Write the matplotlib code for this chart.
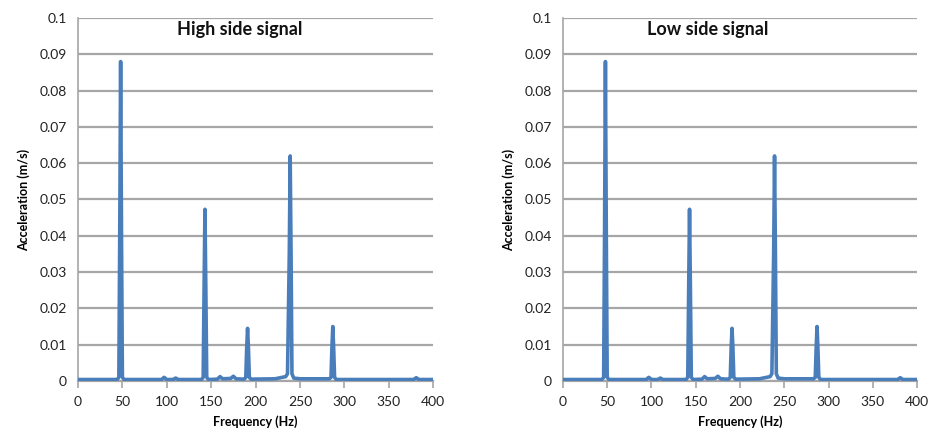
import numpy as np
import matplotlib.pyplot as plt

# spectrum (Hz, m/s)
freq = [0, 44, 46, 47, 48, 49, 50, 52, 94, 97, 100, 107, 110, 113,
        139, 141, 142, 143, 144, 145, 147, 157, 160, 163, 172, 175, 178,
        187, 189, 190, 191, 192, 193, 195, 222, 230, 234, 236, 238, 239,
        240, 241, 243, 250, 283, 285, 286, 287, 288, 289, 291, 300, 378,
        381, 384, 400]
high_amp = [0.0004, 0.0004, 0.001, 0.04, 0.088, 0.04, 0.001, 0.0004,
            0.0004, 0.001, 0.0004, 0.0004, 0.0008, 0.0004,
            0.0004, 0.001, 0.025, 0.0473, 0.025, 0.001, 0.0004, 0.0005, 0.0012,
            0.0006, 0.0007, 0.0013, 0.0006,
            0.0005, 0.001, 0.009, 0.0145, 0.009, 0.001, 0.0005, 0.0006, 0.001,
            0.0012, 0.002, 0.035, 0.062, 0.035, 0.002, 0.0008, 0.0006,
            0.0006, 0.001, 0.009, 0.015, 0.009, 0.001, 0.0004, 0.0004, 0.0004,
            0.0009, 0.0004, 0.0004]
low_amp = [0.0004, 0.0004, 0.001, 0.04, 0.088, 0.04, 0.001, 0.0004,
           0.0004, 0.001, 0.0004, 0.0004, 0.0008, 0.0004,
           0.0004, 0.001, 0.025, 0.0473, 0.025, 0.001, 0.0004, 0.0005, 0.0012,
           0.0006, 0.0007, 0.0013, 0.0006,
           0.0005, 0.001, 0.009, 0.0145, 0.009, 0.001, 0.0005, 0.0006, 0.001,
           0.0012, 0.002, 0.035, 0.062, 0.035, 0.002, 0.0008, 0.0006,
           0.0006, 0.001, 0.009, 0.015, 0.009, 0.001, 0.0004, 0.0004, 0.0004,
           0.0009, 0.0004, 0.0004]

titles = ['High side signal', 'Low side signal']
title_x = [182, 163]
xticks = np.arange(0, 401, 50)
yticks = np.arange(0, 0.1001, 0.01)
ytick_labels = ['0', '0.01', '0.02', '0.03', '0.04', '0.05',
                '0.06', '0.07', '0.08', '0.09', '0.1']

plt.rcParams['font.family'] = ['Lato', 'DejaVu Sans']

fig = plt.figure(figsize=(9.32, 4.47), dpi=100)
axes = [fig.add_axes([0.0837, 0.1477, 0.381, 0.812]),
        fig.add_axes([0.604, 0.1477, 0.380, 0.812])]

for ax, amp, title, tx in zip(axes, [high_amp, low_amp], titles, title_x):
    ax.plot(freq, amp, color='#4a7ebb', linewidth=2.6, zorder=3)
    ax.set_xlim(0, 400)
    ax.set_ylim(0, 0.1)
    ax.set_xticks(xticks)
    ax.set_yticks(yticks)
    ax.set_yticklabels(ytick_labels)
    ax.yaxis.grid(True, color='#a6a6a6', linewidth=1.6, zorder=1)
    ax.set_axisbelow(True)
    for s in ['top', 'right']:
        ax.spines[s].set_visible(False)
    ax.spines['left'].set_color('#a6a6a6')
    ax.spines['bottom'].set_color('#a6a6a6')
    ax.spines['left'].set_linewidth(1.2)
    ax.spines['bottom'].set_linewidth(1.6)
    ax.tick_params(axis='y', length=0, labelsize=10, colors='#222222', pad=8)
    ax.tick_params(axis='x', length=5, width=1.2, color='#a6a6a6',
                   labelsize=10, labelcolor='#222222', pad=6)
    ax.set_xlabel('Frequency (Hz)', fontsize=9, fontweight='bold', labelpad=5)
    ax.set_ylabel('Acceleration (m/s)', fontsize=9, fontweight='bold', labelpad=7)
    ax.text(tx, 0.0968, title, fontsize=13, fontweight='bold',
            ha='center', va='center', color='#111111')

fig.savefig('out.png', dpi=100)
